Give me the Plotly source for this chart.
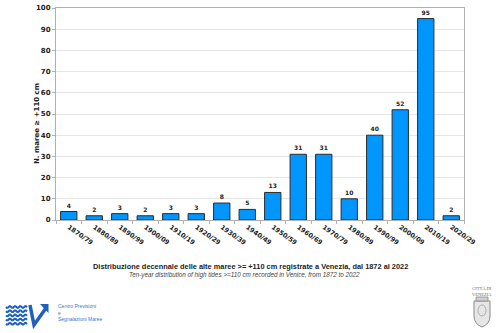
"""Decadal distribution of high tides >= +110 cm in Venice (1872-2022)."""

import numpy as np
import plotly.graph_objects as go

# Data
decades = [
    "1870/79", "1880/89", "1890/99", "1900/09", "1910/19", "1920/29",
    "1930/39", "1940/49", "1950/59", "1960/69", "1970/79", "1980/89",
    "1990/99", "2000/09", "2010/19", "2020/29",
]
counts = [4, 2, 3, 2, 3, 3, 8, 5, 13, 31, 31, 10, 40, 52, 95, 2]

y_ticks = list(range(0, 101, 10))

W, H = 500, 333
L, R, T, B = 56, 36, 8, 113
PW, PH = W - L - R, H - T - B


def px(x):
    return (x - L) / PW


def py(y):
    return (H - B - y) / PH


fig = go.Figure()

fig.add_trace(
    go.Bar(
        x=decades,
        y=counts,
        marker=dict(color="#0096ff", line=dict(color="#2b2b2b", width=1)),
        text=counts,
        textposition="outside",
        textfont=dict(family="DejaVu Sans", size=6, color="#222222", weight="bold"),
        cliponaxis=False,
        hoverinfo="x+y",
    )
)

shapes = []

# wave logo
for i in range(5):
    yy = 307 + i * 4.2
    xs = np.linspace(6, 27, 22)
    ys = yy + 0.9 * np.sin((xs - 6) * 2 * np.pi / 5.2)
    path = "M " + " L ".join(f"{px(a):.5f},{py(b):.5f}" for a, b in zip(xs, ys))
    shapes.append(dict(type="path", path=path, xref="paper", yref="paper",
                       line=dict(color="#1f5fbf", width=2)))

# arrow logo
shapes.append(dict(
    type="path",
    path=(f"M {px(30):.5f},{py(305):.5f} L {px(34):.5f},{py(325):.5f} "
          f"L {px(46):.5f},{py(308):.5f}"),
    xref="paper", yref="paper", line=dict(color="#1f5fbf", width=3.5),
))
shapes.append(dict(
    type="path",
    path=(f"M {px(40):.5f},{py(304):.5f} L {px(48.5):.5f},{py(304):.5f} "
          f"L {px(48.5):.5f},{py(313):.5f} Z"),
    xref="paper", yref="paper", fillcolor="#1f5fbf", line=dict(width=0),
))

# city shield
shield = (f"M {px(474):.5f},{py(301):.5f} L {px(490):.5f},{py(301):.5f} "
          f"L {px(490):.5f},{py(316):.5f} Q {px(490):.5f},{py(324):.5f} {px(482):.5f},{py(327):.5f} "
          f"Q {px(474):.5f},{py(324):.5f} {px(474):.5f},{py(316):.5f} Z")
shapes.append(dict(type="path", path=shield, xref="paper", yref="paper",
                   fillcolor="#e6e6e6", line=dict(color="#8a8a8a", width=1)))
shapes.append(dict(type="rect", xref="paper", yref="paper",
                   x0=px(476), x1=px(488), y0=py(297), y1=py(301),
                   fillcolor="#cfcfcf", line=dict(color="#8a8a8a", width=0.8)))
shapes.append(dict(type="circle", xref="paper", yref="paper",
                   x0=px(478), x1=px(486), y0=py(305), y1=py(316),
                   line=dict(color="#9a9a9a", width=0.8)))

annotations = [
    dict(text="<b>N. maree ≥ +110 cm</b>", textangle=-90,
         x=px(37), y=py(124), xref="paper", yref="paper", showarrow=False,
         font=dict(family="DejaVu Sans", size=7, color="#222222"), xanchor="center", yanchor="middle"),
    dict(text="<b>Distribuzione decennale delle alte maree >= +110 cm registrate a Venezia, dal 1872 al 2022</b>",
         x=px(250), y=py(266), xref="paper", yref="paper", showarrow=False,
         font=dict(family="Liberation Sans", size=7.4, color="#222222"), xanchor="center", yanchor="middle"),
    dict(text="<i>Ten-year distribution of high tides >=110 cm recorded in Venice, from 1872 to 2022</i>",
         x=px(244), y=py(275), xref="paper", yref="paper", showarrow=False,
         font=dict(family="Liberation Sans", size=6.3, color="#444444"), xanchor="center", yanchor="middle"),
    dict(text="Centro Previsioni<br>e<br>Segnalazioni Maree",
         x=px(56), y=py(312.5), xref="paper", yref="paper", showarrow=False, align="left",
         font=dict(family="Liberation Sans", size=5, color="#3a78d0"), xanchor="left", yanchor="middle"),
    dict(text="CITTÀ DI<br>VENEZIA",
         x=px(482), y=py(291), xref="paper", yref="paper", showarrow=False,
         font=dict(family="Liberation Serif", size=4.5, color="#666666"), xanchor="center", yanchor="middle"),
]

fig.update_layout(
    width=W,
    height=H,
    margin=dict(l=L, r=R, t=T, b=B, autoexpand=False),
    paper_bgcolor="white",
    plot_bgcolor="white",
    showlegend=False,
    bargap=0.36,
    shapes=shapes,
    annotations=annotations,
    xaxis=dict(
        automargin=False,
        tickangle=35,
        tickfont=dict(family="DejaVu Sans", size=6.5, color="#222222", weight="bold"),
        showline=True,
        linecolor="#b0b0b0",
        mirror=True,
        ticks="outside",
        tickson="boundaries",
        ticklen=3,
        tickcolor="#b0b0b0",
        showgrid=False,
    ),
    yaxis=dict(
        automargin=False,
        range=[0, 100],
        tickvals=y_ticks,
        tickfont=dict(family="DejaVu Sans", size=7, color="#222222", weight="bold"),
        showline=True,
        linecolor="#b0b0b0",
        mirror=True,
        gridcolor="#e6e6e6",
        zeroline=False,
        ticks="outside",
        ticklen=3,
        tickcolor="#b0b0b0",
    ),
)

# the page has the browser's default 8px body margin; remove it
fig.write_html(
    "out.html",
    config={"displayModeBar": False},
    post_script="document.body.style.margin = '0';",
)
